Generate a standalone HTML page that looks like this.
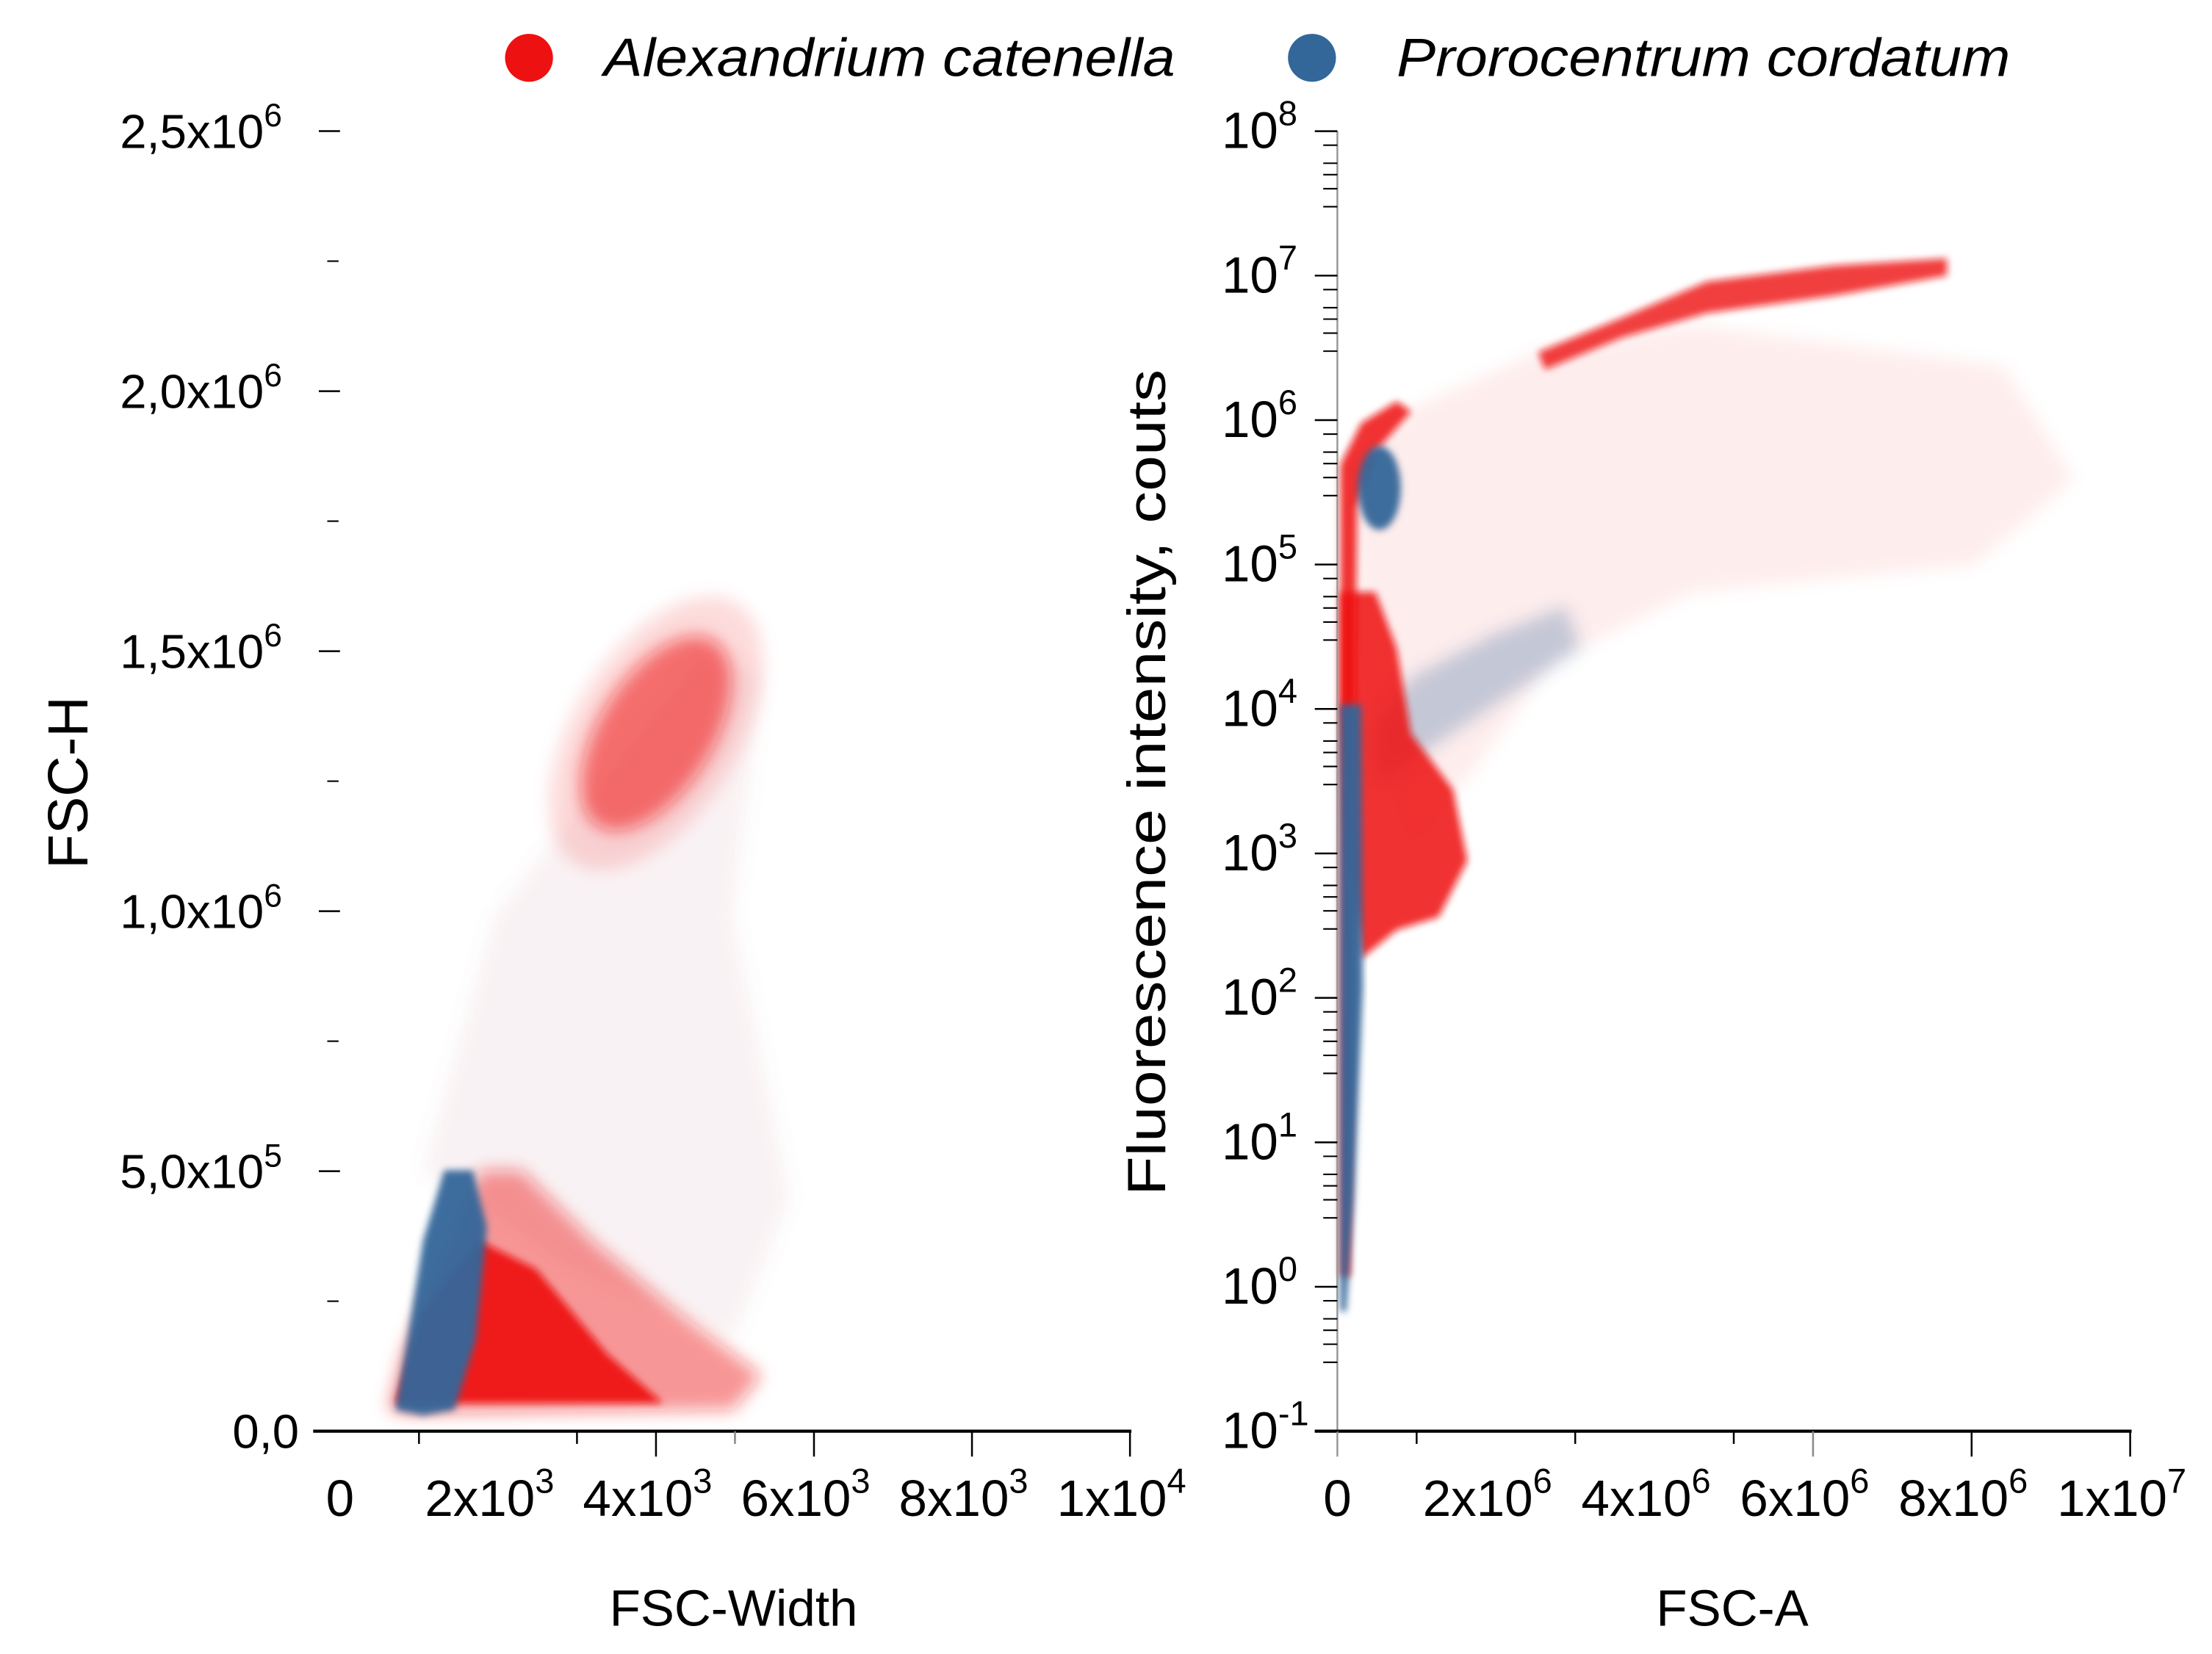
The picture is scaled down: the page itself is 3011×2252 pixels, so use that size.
<!DOCTYPE html>
<html><head><meta charset="utf-8"><style>
html,body{margin:0;padding:0;background:#fff}
svg{display:block}
text{font-family:"Liberation Sans",Arial,sans-serif;fill:#000}
</style></head><body>
<svg id="fig" width="3011" height="2252" viewBox="0 0 1568 1173" preserveAspectRatio="none" xmlns="http://www.w3.org/2000/svg">
<defs>
<filter id="soft" x="-20%" y="-20%" width="140%" height="140%"><feGaussianBlur stdDeviation="2.5"/></filter>
<filter id="soft2" x="-20%" y="-20%" width="140%" height="140%"><feGaussianBlur stdDeviation="6"/></filter>
</defs>
<g>
<circle cx="375" cy="41" r="17" fill="#ee1111"/>
<text x="428" y="54" font-size="38" font-style="italic" textLength="405" lengthAdjust="spacingAndGlyphs">Alexandrium catenella</text>
<circle cx="930" cy="41" r="17" fill="#336699"/>
<text x="990" y="54" font-size="38" font-style="italic" textLength="435" lengthAdjust="spacingAndGlyphs">Prorocentrum cordatum</text>
</g>
<g id="left"></g>
<g id="right"></g>
<text x="520" y="1153" font-size="36" text-anchor="middle">FSC-Width</text>
<text x="1228" y="1153" font-size="36" text-anchor="middle">FSC-A</text>
<text transform="translate(62,555) rotate(-90)" font-size="40" text-anchor="middle">FSC-H</text>
<text transform="translate(826,555) rotate(-90)" font-size="38" text-anchor="middle" textLength="586" lengthAdjust="spacingAndGlyphs">Fluorescence intensity, couts</text>
</svg>
<script>
// ---------- LEFT PANEL DATA (x in thousands, y in millions) ----------
const leftXTicks = [0, 2, 4, 6, 8, 10];
const leftXTickLabels = ["0", "2x10", "4x10", "6x10", "8x10", "1x10"];
const leftXTickExp = ["", "3", "3", "3", "3", "4"];
const leftXMarks = [1, 3, 4, 5, 6, 8, 10];
const leftXMarksLong = [false, false, true, false, true, true, true];
const leftYTicks = [0, 0.5, 1.0, 1.5, 2.0, 2.5];
const leftYTickLabels = ["0,0", "5,0x10", "1,0x10", "1,5x10", "2,0x10", "2,5x10"];
const leftYTickExp = ["", "5", "6", "6", "6", "6"];
const leftYMinor = [0.25, 0.75, 1.25, 1.75, 2.25];
const leftSparseX = [1.05, 1.95, 3.20, 4.63, 5.34, 4.98, 5.70, 4.98, 2.84];
const leftSparseY = [0.502, 0.99, 1.234, 1.505, 1.451, 0.99, 0.447, 0.176, 0.312];
const leftRedOuterX = [0.61, 0.79, 1.23, 1.77, 2.30, 3.20, 4.27, 5.34, 4.98, 0.875];
const leftRedOuterY = [0.041, 0.149, 0.312, 0.502, 0.502, 0.366, 0.230, 0.108, 0.041, 0.033];
const leftRedCoreX = [0.70, 1.05, 1.77, 2.48, 3.38, 4.09];
const leftRedCoreY = [0.054, 0.230, 0.366, 0.312, 0.149, 0.054];
const leftBlueX = [0.70, 0.85, 1.05, 1.32, 1.68, 1.86, 1.72, 1.45, 1.05];
const leftBlueY = [0.041, 0.176, 0.366, 0.502, 0.502, 0.393, 0.176, 0.041, 0.030];
const leftBlobCenter = [4.0, 1.342];
const leftBlobRadii = [0.72, 0.21];

// ---------- RIGHT PANEL DATA (x in millions, y as log10 exponent) ----------
const rightXTicks = [0, 2, 4, 6, 8, 10];
const rightXTickLabels = ["0", "2x10", "4x10", "6x10", "8x10", "1x10"];
const rightXTickExp = ["", "6", "6", "6", "6", "7"];
const rightXMarks = [1, 3, 5, 6, 8, 10];
const rightXMarksLong = [false, false, false, true, true, true];
const rightYDecades = [-1, 0, 1, 2, 3, 4, 5, 6, 7, 8];
const rightYMinorMult = [3, 4, 5, 6, 8];
const rightFanX = [0.12, 0.93, 2.53, 4.48, 8.40, 9.29, 8.04, 4.48, 2.70, 1.81, 0.93, 0.39];
const rightFanY = [5.69, 6.08, 6.47, 6.66, 6.37, 5.59, 5.00, 4.81, 4.32, 3.64, 3.05, 4.03];
const rightBlueDiagX = [0.39, 0.93, 1.99, 2.88, 3.06, 1.99, 0.93, 0.48];
const rightBlueDiagY = [3.83, 4.22, 4.52, 4.71, 4.42, 4.03, 3.64, 3.44];
const rightBandX = [2.53, 3.59, 4.66, 6.26, 7.69, 7.69, 6.26, 4.66, 3.59, 2.62];
const rightBandY = [6.47, 6.71, 6.96, 7.07, 7.12, 7.00, 6.86, 6.74, 6.57, 6.35];
const rightSpikeX = [0.036, 0.036, 0.30, 0.75, 0.93, 0.48, 0.25, 0.21, 0.16];
const rightSpikeY = [0.07, 5.69, 5.98, 6.13, 6.06, 5.78, 5.39, 3.05, 0.07];
const rightRedBlobX = [0.036, 0.48, 0.75, 0.93, 1.46, 1.64, 1.28, 0.75, 0.30, 0.12, 0.036];
const rightRedBlobY = [4.81, 4.81, 4.42, 3.83, 3.44, 2.95, 2.56, 2.47, 2.27, 3.05, 4.03];
const rightBlueColX = [0.036, 0.30, 0.32, 0.21, 0.11, 0.036];
const rightBlueColY = [4.03, 4.03, 2.07, 0.61, -0.17, -0.17];
const rightBlueBlobCenter = [0.53, 5.53];
const rightBlueBlobRadii = [0.27, 0.29];

const NS = "http://www.w3.org/2000/svg";
const RED = "#ee1111", BLUE = "#336699";
function mk(parent, tag, attrs) {
  const e = document.createElementNS(NS, tag);
  for (const k in attrs) e.setAttribute(k, attrs[k]);
  parent.appendChild(e);
  return e;
}
// axis functions
const lx = v => 241 + 56 * v;
const ly = v => 1015 - 368.8 * v;
const rx = v => 948 + 56.2 * v;
const ry = e => 1015 - (e + 1) * 102.44;

function poly(parent, xs, ys, fx, fy, fill, op, filt) {
  const pts = xs.map((x, i) => fx(x).toFixed(1) + "," + fy(ys[i]).toFixed(1)).join(" ");
  const p = mk(parent, "polygon", {points: pts, fill: fill, "fill-opacity": op, "stroke-linejoin": "round"});
  if (filt) p.setAttribute("filter", filt);
  return p;
}
function supLabel(parent, x, y, base, exp, anchor, fs) {
  const t = mk(parent, "text", {x: x, y: y, "font-size": fs, "text-anchor": anchor});
  t.appendChild(document.createTextNode(base));
  if (exp) {
    const s = document.createElementNS(NS, "tspan");
    s.setAttribute("font-size", fs * 0.68);
    s.setAttribute("dy", -fs * 0.45);
    s.textContent = exp;
    t.appendChild(s);
  }
  return t;
}

// ================= LEFT =================
const L = document.getElementById("left");
const lData = mk(L, "g", {});


let p;
p = poly(lData, leftSparseX, leftSparseY, lx, ly, "#c07080", 0.09, "url(#soft2)");


const bcx = lx(leftBlobCenter[0]), bcy = ly(leftBlobCenter[1]);
const halo = mk(lData, "ellipse", {cx: bcx, cy: bcy, rx: leftBlobRadii[0] * 56 * 1.45, ry: leftBlobRadii[1] * 368.8 * 1.4, fill: RED, "fill-opacity": 0.14, filter: "url(#soft2)", transform: `rotate(32 ${bcx} ${bcy})`});


const blob = mk(lData, "ellipse", {cx: bcx, cy: bcy, rx: leftBlobRadii[0] * 56, ry: leftBlobRadii[1] * 368.8, fill: RED, "fill-opacity": 0.55, filter: "url(#soft2)", transform: `rotate(32 ${bcx} ${bcy})`});


p = poly(lData, leftRedOuterX, leftRedOuterY, lx, ly, RED, 0.45, "url(#soft2)");


p = poly(lData, leftRedCoreX, leftRedCoreY, lx, ly, RED, 0.9, "url(#soft)");


p = poly(lData, leftBlueX, leftBlueY, lx, ly, BLUE, 0.95, "url(#soft)");



const lAx = mk(L, "g", {});


const lxl = mk(lAx, "line", {x1: 222, x2: 802, y1: 1015, y2: 1015, stroke: "#000", "stroke-width": 2.2});


leftXMarks.forEach((v, i) => {
  const t = mk(lAx, "line", {x1: lx(v), x2: lx(v), y1: 1015, y2: leftXMarksLong[i] ? 1033 : 1024, stroke: i === 3 ? "#888" : "#000", "stroke-width": 1.3});
  
  
});
leftXTicks.forEach((v, i) => {
  const t = supLabel(lAx, lx(v) + (leftXTickExp[i] ? -6 : 0), 1075, leftXTickLabels[i], leftXTickExp[i], "middle", 36);
  
  
});
leftYTicks.forEach((v, i) => {
  const t = mk(lAx, "line", {x1: 226, x2: 241, y1: ly(v), y2: ly(v), stroke: "#000", "stroke-width": 1.3});
  
  
  const lb = supLabel(lAx, leftYTickExp[i] ? 196 : 212, ly(v) + 12, leftYTickLabels[i], leftYTickExp[i], "end", 34);
  if (leftYTickExp[i]) { lb.setAttribute("text-anchor", "start"); lb.setAttribute("x", 85); }
  
  
});
leftYMinor.forEach(v => {
  const t = mk(lAx, "line", {x1: 232, x2: 240, y1: ly(v), y2: ly(v), stroke: "#000", "stroke-width": 1.1});
  
  
});

// ================= RIGHT =================
const R = document.getElementById("right");
const rData = mk(R, "g", {});


p = poly(rData, rightFanX, rightFanY, rx, ry, RED, 0.07, "url(#soft2)");


p = poly(rData, rightBlueDiagX, rightBlueDiagY, rx, ry, BLUE, 0.28, "url(#soft2)");


p = poly(rData, rightBandX, rightBandY, rx, ry, RED, 0.8, "url(#soft)");


p = poly(rData, rightRedBlobX, rightRedBlobY, rx, ry, RED, 0.85, "url(#soft)");


p = poly(rData, rightSpikeX, rightSpikeY, rx, ry, RED, 0.85, "url(#soft)");


p = poly(rData, rightBlueColX, rightBlueColY, rx, ry, BLUE, 0.95, "url(#soft)");


const bb = mk(rData, "ellipse", {cx: rx(rightBlueBlobCenter[0]), cy: ry(rightBlueBlobCenter[1]), rx: rightBlueBlobRadii[0] * 56.2, ry: rightBlueBlobRadii[1] * 102.44, fill: BLUE, "fill-opacity": 0.95, filter: "url(#soft)"});



const rAx = mk(R, "g", {});


const ryl = mk(rAx, "line", {x1: 948, x2: 948, y1: ry(8), y2: 1015, stroke: "#999", "stroke-width": 1.3});


const rxl = mk(rAx, "line", {x1: 932, x2: 1511, y1: 1015, y2: 1015, stroke: "#000", "stroke-width": 2.2});


const r0 = mk(rAx, "line", {x1: 948, x2: 948, y1: 1015, y2: 1033, stroke: "#999", "stroke-width": 1.3});


rightXMarks.forEach((v, i) => {
  const t = mk(rAx, "line", {x1: rx(v), x2: rx(v), y1: 1015, y2: rightXMarksLong[i] ? 1033 : 1024, stroke: i === 3 ? "#888" : "#000", "stroke-width": 1.3});
  
  
});
rightXTicks.forEach((v, i) => {
  const t = supLabel(rAx, rx(v) + (rightXTickExp[i] ? -6 : 0), 1075, rightXTickLabels[i], rightXTickExp[i], "middle", 36);
  
  
});
rightYDecades.forEach(d => {
  const t = mk(rAx, "line", {x1: 932, x2: 948, y1: ry(d), y2: ry(d), stroke: "#000", "stroke-width": 1.3});
  
  
  const lb = supLabel(rAx, 866, ry(d) + 12, "10", String(d), "start", 36);
  
  
  if (d < 8) {
    rightYMinorMult.forEach(m => {
      const yy = ry(d + Math.log10(m));
      const mt = mk(rAx, "line", {x1: 938, x2: 948, y1: yy, y2: yy, stroke: "#000", "stroke-width": 1.1});
      
      
    });
  }
});
</script>
</body></html>
